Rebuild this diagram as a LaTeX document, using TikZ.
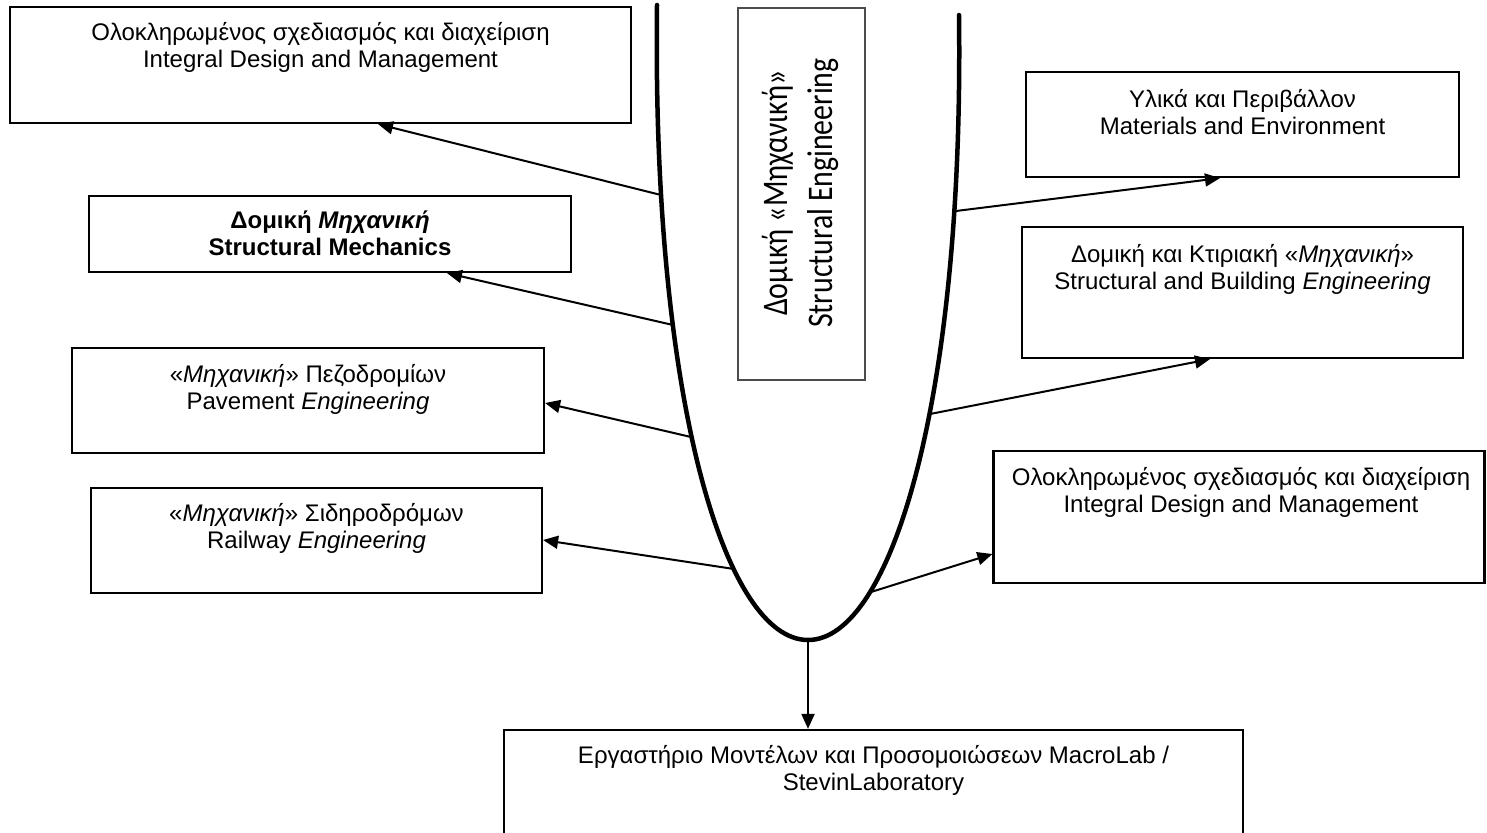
\documentclass[tikz,border=0pt]{standalone}
\usepackage{fontspec}
\setmainfont{Liberation Sans}
\newfontfamily\carlito{Carlito}[FakeStretch=0.83]
\usetikzlibrary{arrows.meta}
\begin{document}
\begin{tikzpicture}[x=1pt,y=-1pt,
  box/.style={draw=black, line width=2.2pt, inner sep=0pt},
  lbl/.style={align=center, inner sep=0pt, anchor=north, font=\fontsize{24}{27.5}\selectfont},
  arr/.style={line width=2pt, -{Triangle[length=15pt,width=13pt]}},
  ucurve/.style={line width=4.5pt, line cap=round}]
\useasboundingbox (0,0) rectangle (1487,832);
\fill[white] (0,0) rectangle (1487,832);
\newcommand\tl{\rule{0pt}{20pt}}
% boxes (centre, width, height)
\node[box, minimum width=621pt, minimum height=116pt] (A) at (320.5,65) {};
\node[box, minimum width=482pt, minimum height=76pt] (B) at (330,234) {};
\node[box, minimum width=472pt, minimum height=105pt] (C) at (308,400.5) {};
\node[box, minimum width=451pt, minimum height=105pt] (D) at (316.5,540.5) {};
\node[box, minimum width=433pt, minimum height=105pt] (E) at (1242.5,124.5) {};
\node[box, minimum width=441pt, minimum height=131pt] (F) at (1242.5,292.5) {};
\node[box, minimum width=491pt, minimum height=132pt] (G) at (1239,517) {};
\node[box, minimum width=739pt, minimum height=120pt] (H) at (873.5,790) {};
% texts
\node[lbl] (tA) at (320.5,20) {\tl Ολοκληρωμένος σχεδιασμός και διαχείριση\\Integral Design and Management};
\node[lbl, font=\fontsize{24}{27.5}\selectfont\bfseries] (tB) at (330,208) {\tl Δομική \textit{Μηχανική}\\Structural Mechanics};
\node[lbl] (tC) at (308,362) {\tl «\textit{Μηχανική}» Πεζοδρομίων\\Pavement \textit{Engineering}};
\node[lbl] (tD) at (316.5,501) {\tl «\textit{Μηχανική}» Σιδηροδρόμων\\Railway \textit{Engineering}};
\node[lbl] (tE) at (1242.5,87) {\tl Υλικά και Περιβάλλον\\Materials and Environment};
\node[lbl] (tF) at (1242.5,242) {\tl Δομική και Κτιριακή «\textit{Μηχανική}»\\Structural and Building \textit{Engineering}};
\node[lbl] (tG) at (1241,465) {\tl Ολοκληρωμένος σχεδιασμός και διαχείριση\\Integral Design and Management};
\node[lbl] (tH) at (873.5,743) {\tl Εργαστήριο Μοντέλων και Προσομοιώσεων MacroLab /\\StevinLaboratory};
% central box
\node[draw=black!70, line width=1.6pt, minimum width=127pt, minimum height=372pt, inner sep=0pt] (cbox) at (801.5,194) {};
\node[rotate=90, align=center, inner sep=0pt, font=\carlito\fontsize{36}{45}\selectfont] (ctext) at (800,193) {Δομική «Μηχανική»\\Structural Engineering};
% U curve
\draw[ucurve] (657,5) .. controls (652,400) and (725,640) .. (808,640)
              .. controls (891,640) and (964,400) .. (959,15);
% attachment points on curve
\coordinate (pA) at (661,195);
\coordinate (pB) at (673,325);
\coordinate (pC) at (691,437);
\coordinate (pD) at (734,569);
\coordinate (pE) at (956,211);
\coordinate (pF) at (930,414);
\coordinate (pG) at (871,592);
\coordinate (pH) at (808,642);
% arrows
\draw[arr] (pA) -- (378,0 |- A.south);
\draw[arr] (pB) -- (447,0 |- B.south);
\draw[arr] (pC) -- (C.east |- 0,403);
\draw[arr] (pD) -- (D.east |- 0,540);
\draw[arr] (pE) -- (1220,0 |- E.south);
\draw[arr] (pF) -- (1210,0 |- F.south);
\draw[arr] (pG) -- (G.west |- 0,554);
\draw[arr] (pH) -- (808,0 |- H.north);
\end{tikzpicture}
\end{document}
